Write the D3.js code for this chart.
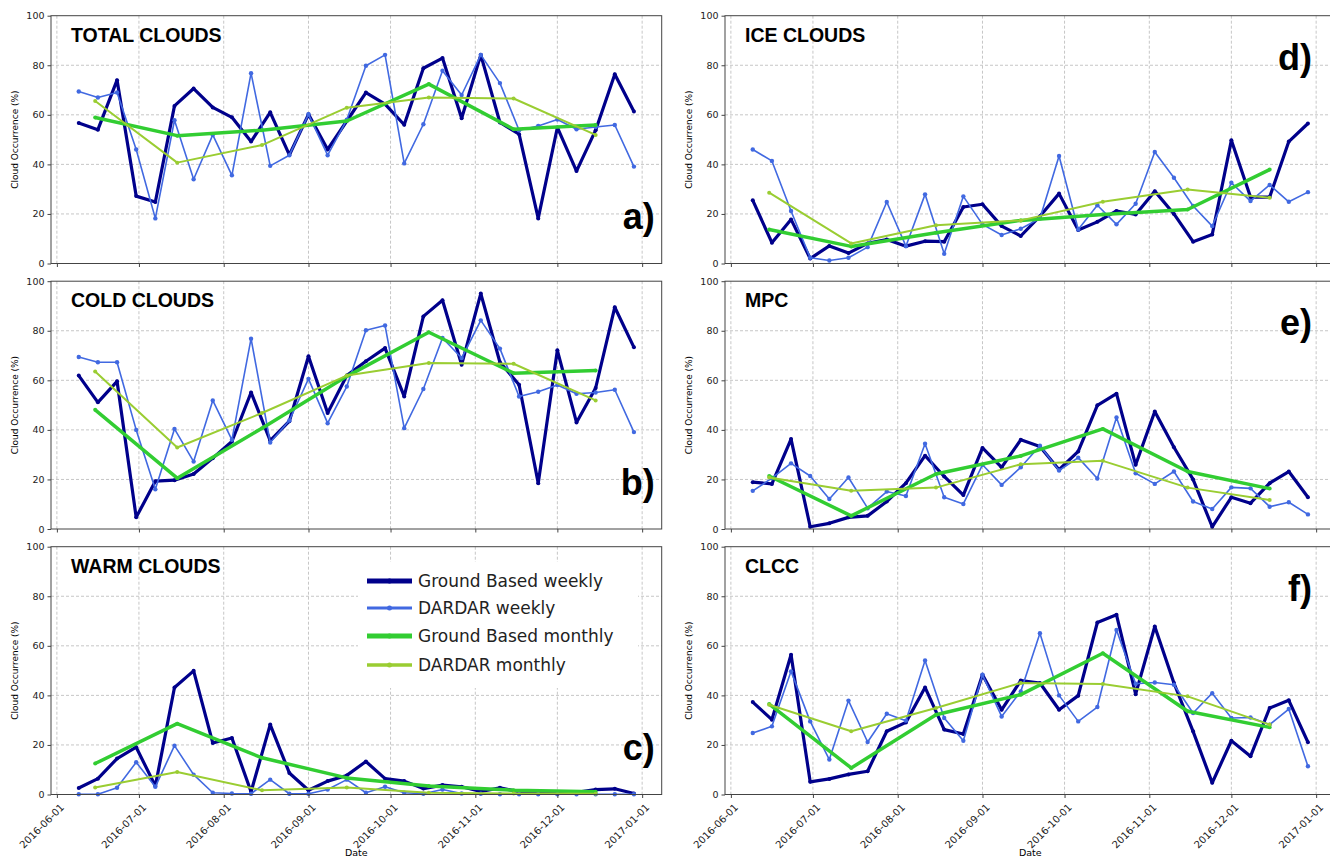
<!DOCTYPE html>
<html>
<head>
<meta charset="utf-8">
<script src="https://cdn.jsdelivr.net/npm/d3@7/dist/d3.min.js"></script>
<style>
	body { margin: 0; background: white; }
	text { font-family: "DejaVu Sans", sans-serif; }
</style>
</head>
<body>
<svg id="chart" width="1330" height="859"></svg>
<script>
//****************************************************************************************************************************//
// Data

var weeklyDates = ["2016-06-09","2016-06-16","2016-06-23","2016-06-30","2016-07-07","2016-07-14","2016-07-21","2016-07-28",
	"2016-08-04","2016-08-11","2016-08-18","2016-08-25","2016-09-01","2016-09-08","2016-09-15","2016-09-22","2016-09-29",
	"2016-10-06","2016-10-13","2016-10-20","2016-10-27","2016-11-03","2016-11-10","2016-11-17","2016-11-24",
	"2016-12-01","2016-12-08","2016-12-15","2016-12-22","2016-12-29"];
var monthlyDates = ["2016-06-15","2016-07-15","2016-08-15","2016-09-15","2016-10-15","2016-11-15","2016-12-15"];
var monthTicks = ["2016-06-01","2016-07-01","2016-08-01","2016-09-01","2016-10-01","2016-11-01","2016-12-01","2017-01-01"];
var yTicks = [0, 20, 40, 60, 80, 100];

var seriesNames = ["Ground Based weekly", "DARDAR weekly", "Ground Based monthly", "DARDAR monthly"];
var seriesColors = ["#00008b", "#4169e1", "#32cd32", "#9acd32"];

// a) total clouds
var totalGbWeekly = [56.7,54,74,27.2,24.8,63.6,70.6,63,59,49.2,61,43.8,60.2,46,57.5,69,64.3,56,78.8,82.9,58.6,84.2,56.9,52.2,18.2,54.9,37.3,53.8,76.4,61.3];
var totalDardarWeekly = [69.4,67,69,46,18.2,57.8,34,51.9,35.6,76.8,39.4,43.7,60.2,43.7,58,79.8,84.2,40.4,56.2,77.8,68,84.2,72.8,53.8,55.5,58.1,54.2,55.1,55.9,39.1];
var totalGbMonthly = [58.9,51.6,53.8,57.5,72.4,54.2,55.9];
var totalDardarMonthly = [65.6,40.7,47.8,62.9,67,66.6,51.9];

// b) cold clouds
var coldGbWeekly = [61.9,51.1,59.6,4.7,19.3,19.7,22.2,28.6,35.3,55.1,35.7,43.5,69.7,46.8,61.9,67.7,73,53.5,85.8,92.3,66.3,95,67.3,58.2,18.5,72.1,43,56.9,89.5,73.3];
var coldDardarWeekly = [69.4,67.3,67.3,40,16,40.4,27.2,51.9,36,76.8,34.9,43.8,60.6,42.7,57.5,80.2,82.1,40.7,56.5,77.1,69,84.2,72.8,53.5,55.4,58.1,54.6,55.1,56.2,39.1];
var coldGbMonthly = [48.1,20.5,40.7,61.6,79.4,62.9,64];
var coldDardarMonthly = [63.6,32.9,46.8,61.9,67,66.7,51.9];

// c) warm clouds
var warmGbWeekly = [2.6,6.4,14.5,19.1,3.4,43.2,49.9,20.8,22.8,1.1,28.2,8.7,1.7,5.4,7.7,13.3,6.4,5.4,2.4,3.8,3.1,1.2,2.7,1.1,1.3,0.7,0.9,2,2.3,0.4];
var warmDardarWeekly = [0.1,0.1,2.7,13,3.1,19.7,8,0.7,0.4,0.3,6,0.3,0.3,2,6,0.7,3.1,0.7,0.3,2,0.4,0.3,0.1,0.1,0.1,0.1,0.1,0.1,0.1,0.1];
var warmGbMonthly = [12.5,28.6,14.8,6.7,3.4,1.7,1.1];
var warmDardarMonthly = [2.8,9.1,1.7,2.8,0.7,0.4,0.3];

// d) ice clouds
var iceGbWeekly = [25.5,8.4,17.8,2,7.1,4.2,8.1,9.7,7,9,8.8,22.8,23.9,15.1,11.1,19.1,28.2,13.5,16.8,21.2,19.8,29.2,20,8.8,11.7,49.7,26.8,26.8,49.2,56.5];
var iceDardarWeekly = [46,41.4,21.2,2.3,1.2,2.3,6.6,24.8,7,27.9,3.9,27.1,15.8,11.5,14,18.2,43.4,13.7,23.5,15.8,24.1,45,34.6,23.2,15.1,32.6,25.2,31.7,24.9,28.8];
var iceGbMonthly = [13.7,6.9,12.4,17.4,19.8,21.8,37.9];
var iceDardarMonthly = [28.6,8.1,15.4,17.4,24.9,29.9,26.5];

// e) MPC
var mpcGbWeekly = [18.9,18.2,36.3,0.9,2.3,4.7,5.3,11.1,18.5,29.6,21.2,13.7,32.7,24.9,36,33.3,23.9,31.3,49.9,54.6,25.9,47.4,33,20,0.9,12.8,10.4,18.5,23.2,12.8];
var mpcDardarWeekly = [15.4,20.5,26.5,21.4,12.1,20.8,8.4,15.1,13.3,34.4,12.8,10.1,25.9,17.8,24.9,33.6,23.6,28.8,20.4,45,22.5,18.2,23.2,11.1,8.1,16.8,16.4,9,10.8,5.9];
var mpcGbMonthly = [21.4,5.3,22.2,29.5,40.4,23.2,16.3];
var mpcDardarMonthly = [20.8,15.4,16.7,26.1,27.5,16.7,11.7];

// f) CLCC
var clccGbWeekly = [37.3,30.2,56.4,5.1,6.3,8.1,9.4,25.5,29.1,43.2,26.2,24.4,48.3,34.2,46,45,34.2,39.9,69.4,72.5,40.5,67.8,45,25.5,4.7,21.7,15.4,34.9,38,21.1];
var clccDardarWeekly = [24.8,27.5,49.7,29.5,14.1,37.9,21.2,32.6,29.8,54.1,30.9,21.7,48.3,31.5,41.6,65.1,40,29.5,35.3,66.4,44.7,45.2,44.3,32.9,40.9,30.9,31.1,28.2,34.5,11.4];
var clccGbMonthly = [36.5,10.7,32.2,40.3,57,33.6,27.1];
var clccDardarMonthly = [36.2,25.5,34.9,45,44.6,39.6,28.2];

//****************************************************************************************************************************//
// Layout

var svg = d3.select("#chart");
var panelW = 610.7, panelH = 247.8;
var colX = [51, 725];
var rowY = [15.7, 281.2, 546.7];
var lineWidths = [3.2, 1.6, 3.5, 2];
var markerR = [2, 2.2, 2, 2];

var parseDate = d3.timeParse("%Y-%m-%d");
var wDates = weeklyDates.map(parseDate);
var mDates = monthlyDates.map(parseDate);
var tDates = monthTicks.map(parseDate);
var ext = d3.extent(wDates);
var pad = (ext[1] - ext[0]) * 0.05;

var panels = [
	{title: "TOTAL CLOUDS", tag: "a)", col: 0, row: 0, data: [totalGbWeekly, totalDardarWeekly, totalGbMonthly, totalDardarMonthly]},
	{title: "COLD CLOUDS", tag: "b)", col: 0, row: 1, data: [coldGbWeekly, coldDardarWeekly, coldGbMonthly, coldDardarMonthly]},
	{title: "WARM CLOUDS", tag: "c)", col: 0, row: 2, data: [warmGbWeekly, warmDardarWeekly, warmGbMonthly, warmDardarMonthly]},
	{title: "ICE CLOUDS", tag: "d)", col: 1, row: 0, data: [iceGbWeekly, iceDardarWeekly, iceGbMonthly, iceDardarMonthly]},
	{title: "MPC", tag: "e)", col: 1, row: 1, data: [mpcGbWeekly, mpcDardarWeekly, mpcGbMonthly, mpcDardarMonthly]},
	{title: "CLCC", tag: "f)", col: 1, row: 2, data: [clccGbWeekly, clccDardarWeekly, clccGbMonthly, clccDardarMonthly]}
];

//****************************************************************************************************************************//
// Panels

function drawPanel(p){
	var x = d3.scaleTime()
				.domain([new Date(+ext[0] - pad), new Date(+ext[1] + pad)])
				.range([0, panelW]);
	var y = d3.scaleLinear()
				.domain([0, 100])
				.range([panelH, 0]);

	var g = svg.append("g")
				.attr("transform", "translate(" + colX[p.col] + "," + rowY[p.row] + ")");

	// grid
	g.selectAll(".vgrid").data(tDates).enter().append("line")
		.attr("x1", function(d){ return x(d); })
		.attr("x2", function(d){ return x(d); })
		.attr("y1", 0).attr("y2", panelH)
		.attr("stroke", "#b8b8b8").attr("stroke-width", 0.8).attr("stroke-dasharray", "3,2");
	g.selectAll(".hgrid").data(yTicks.slice(1, -1)).enter().append("line")
		.attr("x1", 0).attr("x2", panelW)
		.attr("y1", function(d){ return y(d); })
		.attr("y2", function(d){ return y(d); })
		.attr("stroke", "#b8b8b8").attr("stroke-width", 0.8).attr("stroke-dasharray", "3,2");

	// series
	var dates = [wDates, wDates, mDates, mDates];
	for(var s = 0; s < 4; s++){
		var pts = p.data[s].map(function(v, i){ return [dates[s][i], v]; });
		var line = d3.line()
					.x(function(d){ return x(d[0]); })
					.y(function(d){ return y(d[1]); });
		g.append("path")
			.attr("d", line(pts))
			.attr("fill", "none")
			.attr("stroke", seriesColors[s])
			.attr("stroke-width", lineWidths[s])
			.attr("stroke-linejoin", "round");
		g.selectAll(".m" + s).data(pts).enter().append("circle")
			.attr("cx", function(d){ return x(d[0]); })
			.attr("cy", function(d){ return y(d[1]); })
			.attr("r", markerR[s])
			.attr("fill", seriesColors[s]);
	}

	// frame
	g.append("rect")
		.attr("width", panelW).attr("height", panelH)
		.attr("fill", "none").attr("stroke", "#444").attr("stroke-width", 1);

	// axes
	var yAxis = d3.axisLeft(y).tickValues(yTicks).tickSize(3.5).tickPadding(3);
	var yg = g.append("g").call(yAxis);
	yg.select(".domain").remove();
	yg.selectAll("line").attr("stroke", "#444");
	yg.selectAll("text").style("font-size", "9.5px").attr("fill", "#222");

	var xAxis = d3.axisBottom(x).tickValues(tDates).tickSize(3.5);
	var xg = g.append("g").attr("transform", "translate(0," + panelH + ")").call(xAxis);
	xg.select(".domain").remove();
	xg.selectAll("line").attr("stroke", "#444");
	if(p.row == 2){
		xg.selectAll("text")
			.text(function(d){ return d3.timeFormat("%Y-%m-%d")(d); })
			.attr("x", 0).attr("y", 0).attr("dy", "0.35em")
			.attr("text-anchor", "end")
			.attr("transform", "translate(5,11) rotate(-45)")
			.style("font-size", "10px").attr("fill", "#222");
		g.append("text")
			.attr("x", panelW / 2).attr("y", panelH + 62)
			.attr("text-anchor", "middle")
			.style("font-size", "9.5px")
			.text("Date");
	} else {
		xg.selectAll("text").remove();
	}

	g.append("text")
		.attr("transform", "translate(" + (-33) + "," + (panelH / 2) + ") rotate(-90)")
		.attr("text-anchor", "middle")
		.style("font-size", "9px")
		.text("Cloud Occurrence (%)");

	// labels
	g.append("text")
		.attr("x", 20).attr("y", 26)
		.style("font-family", "'Liberation Sans', Arial, sans-serif")
		.style("font-weight", "bold")
		.style("font-size", "19.5px")
		.text(p.title);

	var tagX = p.col == 0 ? panelW - 7 : 1312 - colX[1];
	var tagY = p.col == 0 ? panelH - 34 : 54;
	g.append("text")
		.attr("x", tagX).attr("y", tagY)
		.attr("text-anchor", "end")
		.style("font-family", "'Liberation Sans', Arial, sans-serif")
		.style("font-weight", "bold")
		.style("font-size", "36px")
		.text(p.tag);

	return g;
}

var gs = panels.map(drawPanel);

//****************************************************************************************************************************//
// Legend (sits in panel c)

var legend = svg.append("g");
legend.append("rect")
	.attr("x", 358).attr("y", 562)
	.attr("width", 280).attr("height", 126)
	.attr("fill", "white");

var legendW = [5, 3, 5, 3.5];
var rows = legend.selectAll(".row").data(seriesNames).enter().append("g")
	.attr("transform", function(d, i){ return "translate(367," + [581, 608, 636, 665][i] + ")"; });
rows.append("line")
	.attr("x1", 0).attr("x2", 45)
	.attr("stroke", function(d, i){ return seriesColors[i]; })
	.attr("stroke-width", function(d, i){ return legendW[i]; });
rows.append("circle")
	.attr("cx", 22.5).attr("r", 2.5)
	.attr("fill", function(d, i){ return seriesColors[i]; });
rows.append("text")
	.attr("x", 51).attr("dy", "0.35em")
	.style("font-size", "17px")
	.attr("fill", "#222")
	.text(function(d){ return d; });
</script>
</body>
</html>
